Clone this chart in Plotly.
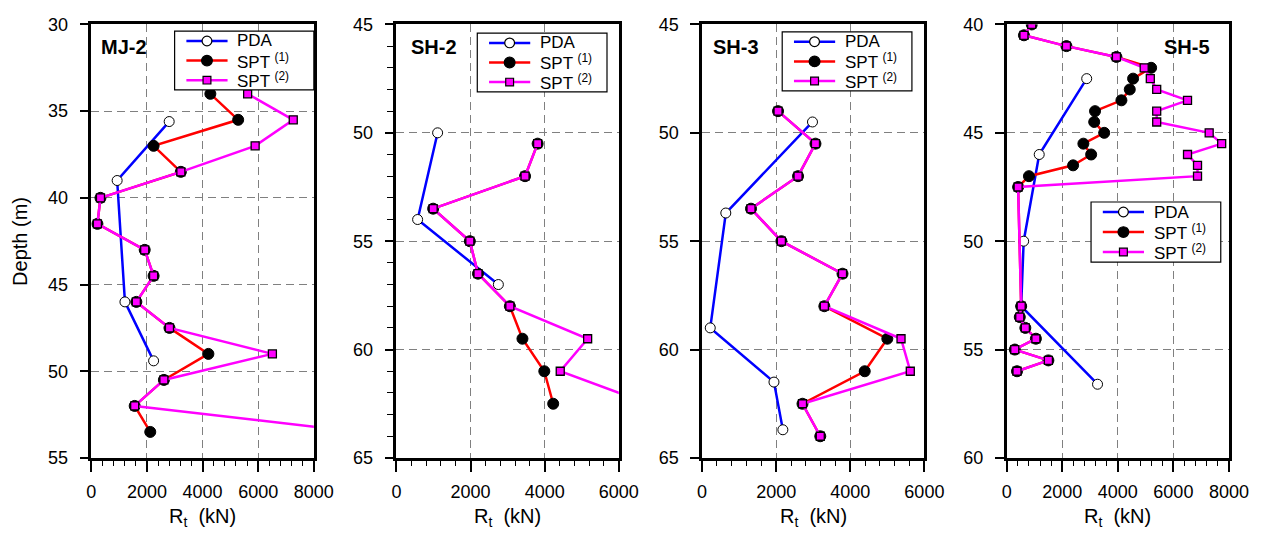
import plotly.graph_objects as go

# ---------------- data ----------------
panel_names = ["MJ-2", "SH-2", "SH-3", "SH-5"]
x_max = [8000, 6000, 6000, 8000]
depth_top = [30, 45, 45, 40]
depth_bot = [55, 65, 65, 60]
x_tick_labels = [["0", "2000", "4000", "6000", "8000"],
                 ["0", "2000", "4000", "6000"],
                 ["0", "2000", "4000", "6000"],
                 ["0", "2000", "4000", "6000", "8000"]]

# MJ-2
mj2_pda_depth = [35.6, 39.0, 46.0, 49.4]
mj2_pda_rt = [2800, 930, 1210, 2240]
mj2_spt_depth = [34.0, 35.5, 37.0, 38.5, 40.0, 41.5, 43.0, 44.5, 46.0, 47.5, 49.0, 50.5, 52.0, 53.5]
mj2_spt1_rt = [4280, 5280, 2240, 3220, 330, 220, 1920, 2240, 1620, 2810, 4210, 2610, 1560, 2120]
mj2_spt2_rt = [5620, 7260, 5890, 3220, 330, 220, 1920, 2240, 1620, 2810, 6510, 2610, 1560, 9600]

# SH-2
sh2_pda_depth = [50.0, 54.0, 57.0]
sh2_pda_rt = [1110, 570, 2750]
sh2_spt_depth = [50.5, 52.0, 53.5, 55.0, 56.5, 58.0, 59.5, 61.0, 62.5]
sh2_spt1_rt = [3810, 3470, 990, 1980, 2200, 3060, 3400, 3990, 4230]
sh2_spt2_rt = [3810, 3470, 990, 1980, 2200, 3060, 5160, 4420, 6800]

# SH-3
sh3_pda_depth = [49.5, 53.7, 59.0, 61.5, 63.7]
sh3_pda_rt = [2980, 640, 220, 1940, 2180]
sh3_spt_depth = [49.0, 50.5, 52.0, 53.5, 55.0, 56.5, 58.0, 59.5, 61.0, 62.5, 64.0]
sh3_spt1_rt = [2050, 3060, 2590, 1320, 2140, 3790, 3300, 5000, 4390, 2710, 3190]
sh3_spt2_rt = [2050, 3060, 2590, 1320, 2140, 3790, 3300, 5370, 5620, 2710, 3190]

# SH-5
sh5_pda_depth = [42.5, 46.0, 50.0, 53.0, 56.6]
sh5_pda_rt = [2880, 1170, 610, 520, 3270]
sh5_spt_depth = [40.0, 40.5, 41.0, 41.5, 42.0, 42.5, 43.0, 43.5, 44.0, 44.5, 45.0, 45.5,
                 46.0, 46.5, 47.0, 47.5, 53.0, 53.5, 54.0, 54.5, 55.0, 55.5, 56.0]
sh5_spt1_rt = [900, 620, 2150, 3950, 5200, 4550, 4430, 4130, 3180, 3150, 3510, 2760,
               3040, 2390, 800, 410, 520, 470, 670, 1050, 290, 1500, 370]
sh5_spt2_rt = [900, 620, 2150, 3950, 4950, 5170, 5400, 6510, 5400, 5400, 7290, 7740,
               6510, 6870, 6870, 410, 520, 470, 670, 1050, 290, 1500, 370]

series_names = ["PDA", "SPT <sup>(1)</sup>", "SPT <sup>(2)</sup>"]
series_colors = ["#0000FF", "#FF0000", "#FF00FF"]

panels = [
    (mj2_pda_depth, mj2_pda_rt, mj2_spt_depth, mj2_spt1_rt, mj2_spt_depth, mj2_spt2_rt),
    (sh2_pda_depth, sh2_pda_rt, sh2_spt_depth, sh2_spt1_rt, sh2_spt_depth, sh2_spt2_rt),
    (sh3_pda_depth, sh3_pda_rt, sh3_spt_depth, sh3_spt1_rt, sh3_spt_depth, sh3_spt2_rt),
    (sh5_pda_depth, sh5_pda_rt, sh5_spt_depth, sh5_spt1_rt, sh5_spt_depth, sh5_spt2_rt),
]

# ---------------- layout geometry (pixels) ----------------
W, H = 1279, 545
x_px = [(88, 315), (399.3, 626), (711, 937.7), (1021.7, 1248.3)]
y_px = (15, 465)
legend_box = [(173, 22, 315, 83), (481.7, 24, 614, 85), (792.7, 22.7, 925, 84),
              (1107.7, 199.3, 1240, 261.7)]
title_px = [(96, 38), (412, 38), (720, 38), (1180, 38)]

FONT = "Liberation Sans, Arial, sans-serif"

marker_styles = [
    dict(symbol="circle", size=10, color="white", line=dict(color="black", width=1)),
    dict(symbol="circle", size=11, color="black", line=dict(color="black", width=1)),
    dict(symbol="square", size=8, color="#FF00FF", line=dict(color="black", width=1.3)),
]

fig = go.Figure()

for i, p in enumerate(panels):
    suffix = "" if i == 0 else str(i + 1)
    for k in range(3):
        fig.add_trace(go.Scatter(
            x=p[2 * k + 1], y=p[2 * k], mode="lines+markers", name=series_names[k],
            xaxis="x" + suffix, yaxis="y" + suffix, showlegend=False,
            line=dict(color=series_colors[k], width=2.5), marker=marker_styles[k],
        ))


def px_x(v):
    return v / W


def px_y(v):
    return 1 - v / H


layout = dict(
    width=W, height=H,
    margin=dict(l=0, r=0, t=0, b=0),
    paper_bgcolor="white", plot_bgcolor="white",
    font=dict(family=FONT, size=18, color="black"),
    showlegend=False,
)

y_dom = [(H - y_px[1]) / H, (H - y_px[0]) / H]
annotations = []
shapes = []
for i in range(4):
    suffix = "" if i == 0 else str(i + 1)
    layout["xaxis" + suffix] = dict(
        domain=[x_px[i][0] / W, x_px[i][1] / W],
        range=[0, x_max[i]], anchor="y" + suffix,
        tickmode="array",
        tickvals=[int(t) for t in x_tick_labels[i]],
        ticktext=x_tick_labels[i],
        ticks="outside", ticklen=11, tickwidth=1.5, tickcolor="black",
        ticklabelstandoff=5,
        showline=True, linewidth=2.5, linecolor="black", mirror=True,
        showgrid=True, gridcolor="#808080", gridwidth=1, griddash="8px,5px",
        zeroline=False,
        minor=dict(dtick=400, ticks="outside", ticklen=5, tickwidth=1.2,
                   tickcolor="black", showgrid=False),
        tickfont=dict(size=18),
    )
    ydict = dict(
        domain=y_dom,
        range=[depth_bot[i], depth_top[i]], anchor="x" + suffix,
        tick0=depth_top[i], dtick=5,
        ticks="outside", ticklen=9, tickwidth=1.5, tickcolor="black",
        ticklabelstandoff=8,
        showline=True, linewidth=2.5, linecolor="black", mirror=True,
        showgrid=True, gridcolor="#808080", gridwidth=1, griddash="8px,5px",
        zeroline=False,
        tickfont=dict(size=18),
    )
    if i == 1:
        ydict["minor"] = dict(dtick=1, ticks="outside", ticklen=7, tickwidth=1.2,
                              tickcolor="black", showgrid=False)
    layout["yaxis" + suffix] = ydict

    # ---- legend box (drawn as shapes + text) ----
    bx0, by0, bx1, by1 = legend_box[i]
    shapes.append(dict(type="rect", xref="paper", yref="paper",
                       x0=px_x(bx0), x1=px_x(bx1), y0=px_y(by0), y1=px_y(by1),
                       line=dict(color="black", width=1.2), fillcolor="white", layer="above"))
    row_h = (by1 - by0) / 3.0
    for k in range(3):
        cy = by0 + row_h * (k + 0.5)
        lx0, lx1 = bx0 + 12, bx0 + 54
        mx = bx0 + 33
        shapes.append(dict(type="line", xref="paper", yref="paper",
                           x0=px_x(lx0), x1=px_x(lx1), y0=px_y(cy), y1=px_y(cy),
                           line=dict(color=series_colors[k], width=2.5), layer="above"))
        ms = marker_styles[k]
        r = ms["size"] / 2.0
        shapes.append(dict(type="circle" if ms["symbol"] == "circle" else "rect",
                           xref="paper", yref="paper",
                           x0=px_x(mx - r), x1=px_x(mx + r), y0=px_y(cy - r), y1=px_y(cy + r),
                           fillcolor=ms["color"], line=dict(color="black", width=1.2),
                           layer="above"))
        annotations.append(dict(
            text=series_names[k], xref="paper", yref="paper",
            x=px_x(bx0 + 62), y=px_y(cy), xanchor="left", yanchor="middle",
            showarrow=False, font=dict(family=FONT, size=17, color="black"),
        ))

    annotations.append(dict(
        text="<b>" + panel_names[i] + "</b>", xref="paper", yref="paper",
        x=title_px[i][0] / W, y=1 - title_px[i][1] / H,
        xanchor="left", yanchor="middle", showarrow=False,
        font=dict(family=FONT, size=20, color="black"),
    ))
    annotations.append(dict(
        text="R<sub>t</sub>  (kN)", xref="paper", yref="paper",
        x=(x_px[i][0] + x_px[i][1]) / 2 / W, y=1 - 527 / H,
        xanchor="center", yanchor="middle", showarrow=False,
        font=dict(family=FONT, size=20, color="black"),
    ))

annotations.append(dict(
    text="Depth (m)", xref="paper", yref="paper",
    x=16 / W, y=1 - 240 / H, xanchor="center", yanchor="middle",
    textangle=-90, showarrow=False,
    font=dict(family=FONT, size=20, color="black"),
))
layout["annotations"] = annotations
layout["shapes"] = shapes

fig.update_layout(**layout)
fig.write_html("out.html")
